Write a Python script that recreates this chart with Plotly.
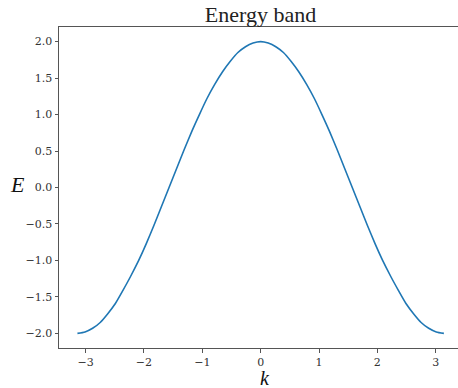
import plotly.graph_objects as go

# Wave number k and band energy E along the first Brillouin zone
k_values = [-3.14, -3.01, -2.88, -2.75, -2.62, -2.49, -2.36, -2.23, -2.09, -1.96,
            -1.83, -1.70, -1.57, -1.44, -1.31, -1.18, -1.05, -0.92, -0.79, -0.65,
            -0.52, -0.39, -0.26, -0.13, 0.00, 0.13, 0.26, 0.39, 0.52, 0.65,
            0.79, 0.92, 1.05, 1.18, 1.31, 1.44, 1.57, 1.70, 1.83, 1.96,
            2.09, 2.23, 2.36, 2.49, 2.62, 2.75, 2.88, 3.01, 3.14]
energy_values = [-2.00, -1.98, -1.93, -1.85, -1.73, -1.59, -1.41, -1.22, -1.00, -0.77,
                 -0.52, -0.26, 0.00, 0.26, 0.52, 0.77, 1.00, 1.22, 1.41, 1.59,
                 1.73, 1.85, 1.93, 1.98, 2.00, 1.98, 1.93, 1.85, 1.73, 1.59,
                 1.41, 1.22, 1.00, 0.77, 0.52, 0.26, 0.00, -0.26, -0.52, -0.77,
                 -1.00, -1.22, -1.41, -1.59, -1.73, -1.85, -1.93, -1.98, -2.00]

x_ticks = [-3, -2, -1, 0, 1, 2, 3]
y_ticks = [-2.0, -1.5, -1.0, -0.5, 0.0, 0.5, 1.0, 1.5, 2.0]

tick_font = dict(family="DejaVu Serif", size=11, color="#333333")

fig = go.Figure()
fig.add_trace(go.Scatter(
    x=k_values, y=energy_values, mode="lines",
    line=dict(color="#1f77b4", width=1.6, shape="spline", smoothing=0.6),
    showlegend=False,
))

fig.update_layout(
    width=458, height=388,
    margin=dict(l=59, r=0, t=27, b=40),
    plot_bgcolor="white", paper_bgcolor="white",
    title=dict(text="Energy band", x=(260.5) / 458, xanchor="center",
               y=1 - 14 / 388, yanchor="middle",
               font=dict(family="Liberation Serif", size=22, color="#222222")),
    xaxis=dict(range=[-3.456, 3.382], tickvals=x_ticks,
               ticktext=[("\u2212" + str(-v)) if v < 0 else str(v) for v in x_ticks],
               showgrid=False, zeroline=False,
               showline=True, linecolor="#555555", linewidth=1, mirror=True,
               ticks="outside", ticklen=3.5, tickcolor="#555555", tickfont=tick_font),
    yaxis=dict(range=[-2.2, 2.2], tickvals=y_ticks,
               ticktext=[("\u2212" if v < 0 else "") + f"{abs(v):.1f}" for v in y_ticks],
               showgrid=False, zeroline=False,
               showline=True, linecolor="#555555", linewidth=1, mirror=False,
               ticks="outside", ticklen=3.5, tickcolor="#555555", tickfont=tick_font),
    annotations=[
        dict(text="<i>E</i>", xref="paper", yref="paper",
             x=(17 - 59) / 399, y=(348 - 184) / 321, showarrow=False,
             xanchor="center", yanchor="middle",
             font=dict(family="Liberation Serif", size=22, color="#111111")),
        dict(text="<i>k</i>", xref="paper", yref="paper",
             x=(265 - 59) / 399, y=(348 - 378) / 321, showarrow=False,
             xanchor="center", yanchor="middle", borderpad=0,
             font=dict(family="Liberation Serif", size=20, color="#111111")),
    ],
)

fig.write_html("out.html")
